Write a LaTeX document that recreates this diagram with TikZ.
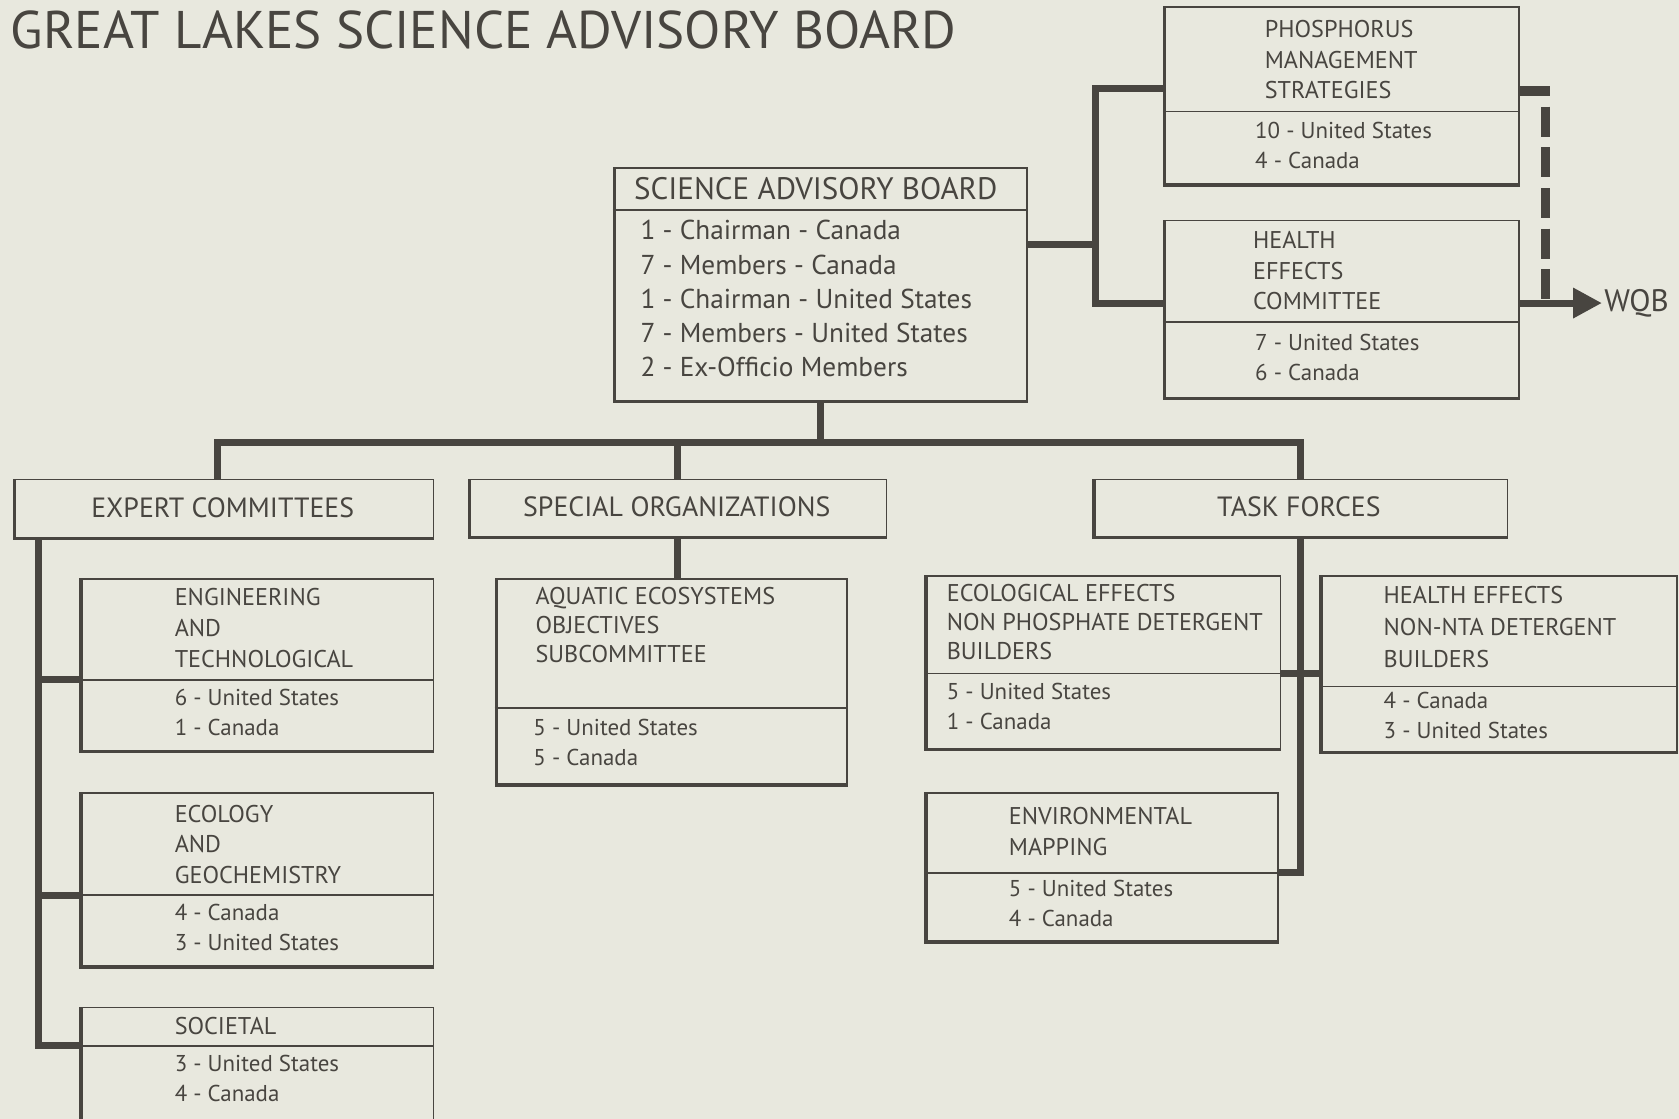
\documentclass[tikz,border=0pt]{standalone}
\usepackage{fontspec}
\setmainfont{PT Sans}
\usetikzlibrary{arrows.meta}
\definecolor{paper}{RGB}{232,232,222}
\definecolor{ink}{RGB}{72,69,64}

\begin{document}
\begin{tikzpicture}[x=1pt, y=-1pt,
  box/.style={draw=ink, line width=1.6pt, fill=paper, inner sep=0pt, anchor=north west,
    path picture={\draw[ink, line width=5pt] (path picture bounding box.north west)
      -- (path picture bounding box.south west) -- (path picture bounding box.south east);}},
  divider/.style={draw=ink, line width=1.6pt},
  link/.style={draw=ink, line width=6.5pt},
  dashlink/.style={draw=ink, line width=8.5pt, dash pattern=on 28pt off 10pt},
  head/.style={text=ink, inner sep=0pt, font=\fontsize{26}{30}\selectfont},
  boxtitle/.style={text=ink, inner sep=0pt, anchor=west, align=left, font=\fontsize{22.6}{28.5}\selectfont},
  tally/.style={boxtitle, font=\fontsize{21.4}{28}\selectfont},
  boardlist/.style={boxtitle, font=\fontsize{25.5}{32}\selectfont}
]
  \useasboundingbox (0,0) rectangle (1568,1045);
  \fill[paper] (0,0) rectangle (1568,1045);

  \node[anchor=west, text=ink, inner sep=0pt, font=\fontsize{49.5}{54}\selectfont] (title) at (10,28)
    {GREAT LAKES SCIENCE ADVISORY BOARD};

  % board
  \node[box, minimum width=386pt, minimum height=219pt] (sab) at (572,156) {};
  \draw[divider] (sab.west |- 0,196) -- (sab.east |- 0,196);
  \node[head, anchor=west, font=\fontsize{29}{32}\selectfont] (sab-title) at (592,176) {SCIENCE ADVISORY BOARD};
  \node[boardlist] (sab-list) at (598,279) {1 - Chairman - Canada\\7 - Members - Canada\\
    1 - Chairman - United States\\7 - Members - United States\\2 - Ex-Officio Members};

  % committees to the right
  \node[box, minimum width=332pt, minimum height=167pt] (phos) at (1086,6) {};
  \draw[divider] (phos.west |- 0,104) -- (phos.east |- 0,104);
  \node[boxtitle] (phos-title) at (1181,56) {PHOSPHORUS\\MANAGEMENT\\STRATEGIES};
  \node[tally] (phos-tally) at (1172,136) {10 - United States\\4 - Canada};

  \node[box, minimum width=332pt, minimum height=167pt] (health) at (1086,205) {};
  \draw[divider] (health.west |- 0,301) -- (health.east |- 0,301);
  \node[boxtitle] (health-title) at (1170,253) {HEALTH\\EFFECTS\\COMMITTEE};
  \node[tally] (health-tally) at (1172,334) {7 - United States\\6 - Canada};

  \node[anchor=west, text=ink, inner sep=2pt, font=\fontsize{29}{32}\selectfont] (wqb) at (1496,283) {WQB};

  % groups
  \node[box, minimum width=392pt, minimum height=56pt] (ec) at (12,447) {};
  \node[head] (ec-title) at (208,474) {EXPERT COMMITTEES};
  \node[box, minimum width=390pt, minimum height=55pt] (so) at (437,447) {};
  \node[head] (so-title) at (632,473) {SPECIAL ORGANIZATIONS};
  \node[box, minimum width=387pt, minimum height=55pt] (tf) at (1020,447) {};
  \node[head] (tf-title) at (1213,473) {TASK FORCES};

  % expert committees
  \node[box, minimum width=330pt, minimum height=162pt] (eng) at (74,540) {};
  \draw[divider] (eng.west |- 0,635) -- (eng.east |- 0,635);
  \node[boxtitle] (eng-title) at (163,586.5) {ENGINEERING\\AND\\TECHNOLOGICAL};
  \node[tally] (eng-tally) at (163,665) {6 - United States\\1 - Canada};

  \node[box, minimum width=330pt, minimum height=163pt] (geo) at (74,740) {};
  \draw[divider] (geo.west |- 0,836) -- (geo.east |- 0,836);
  \node[boxtitle] (geo-title) at (163,788.5) {ECOLOGY\\AND\\GEOCHEMISTRY};
  \node[tally] (geo-tally) at (163,866.5) {4 - Canada\\3 - United States};

  \node[box, minimum width=330pt, minimum height=120pt] (soc) at (74,940) {};
  \draw[divider] (soc.west |- 0,977) -- (soc.east |- 0,977);
  \node[boxtitle] (soc-title) at (163,958) {SOCIETAL};
  \node[tally] (soc-tally) at (163,1007.5) {3 - United States\\4 - Canada};

  % special organizations
  \node[box, minimum width=328pt, minimum height=193pt] (aqua) at (462,540) {};
  \draw[divider] (aqua.west |- 0,661) -- (aqua.east |- 0,661);
  \node[boxtitle, font=\fontsize{22.6}{27}\selectfont] (aqua-title) at (500,584)
    {AQUATIC ECOSYSTEMS\\OBJECTIVES\\SUBCOMMITTEE};
  \node[tally] (aqua-tally) at (498,693) {5 - United States\\5 - Canada};

  % task forces
  \node[box, minimum width=332pt, minimum height=163pt] (ecoeff) at (863,537) {};
  \draw[divider] (ecoeff.west |- 0,629) -- (ecoeff.east |- 0,629);
  \node[boxtitle, font=\fontsize{22.6}{27}\selectfont] (ecoeff-title) at (884,581)
    {ECOLOGICAL EFFECTS\\NON PHOSPHATE DETERGENT\\BUILDERS};
  \node[tally] (ecoeff-tally) at (884,659.5) {5 - United States\\1 - Canada};

  \node[box, minimum width=333pt, minimum height=166pt] (hetf) at (1232,537) {};
  \draw[divider] (hetf.west |- 0,641) -- (hetf.east |- 0,641);
  \node[boxtitle, font=\fontsize{22.6}{29.5}\selectfont] (hetf-title) at (1292,585.5)
    {HEALTH EFFECTS\\NON-NTA DETERGENT\\BUILDERS};
  \node[tally] (hetf-tally) at (1292,668) {4 - Canada\\3 - United States};

  \node[box, minimum width=330pt, minimum height=140pt] (env) at (863,740) {};
  \draw[divider] (env.west |- 0,815) -- (env.east |- 0,815);
  \node[boxtitle, font=\fontsize{22.6}{29}\selectfont] (env-title) at (942,776.5) {ENVIRONMENTAL\\MAPPING};
  \node[tally] (env-tally) at (942,843.5) {5 - United States\\4 - Canada};

  % connectors
  \coordinate (rbus) at (1023,228);
  \draw[link] (sab.east |- rbus) -- (rbus);
  \draw[link] (phos.west |- 0,83) -| (rbus) |- (health.west |- 0,283);
  \draw[link, -{Triangle[length=27pt, width=27pt]}] (health.east |- 0,283) -- (wqb.west);
  \draw[dashlink] (phos.east |- 0,85) -| (1443,283);

  \draw[link] (sab.south) -- (sab.south |- 0,413);
  \draw[link] (ec.north -| 203,0) |- (tf.north |- 0,413) -- (tf.north);
  \draw[link] (so.north |- 0,413) -- (so.north);

  \draw[link] (ec.south -| 36,0) |- (eng.west |- 0,635);
  \draw[link] (ec.south -| 36,0) |- (geo.west |- 0,836);
  \draw[link] (ec.south -| 36,0) |- (soc.west |- 0,976);

  \draw[link] (so.south) -- (so.south |- aqua.north);

  \draw[link] (tf.south) |- (env.east |- 0,815);
  \draw[link] (ecoeff.east |- 0,629) -- (hetf.west |- 0,629);
\end{tikzpicture}
\end{document}
